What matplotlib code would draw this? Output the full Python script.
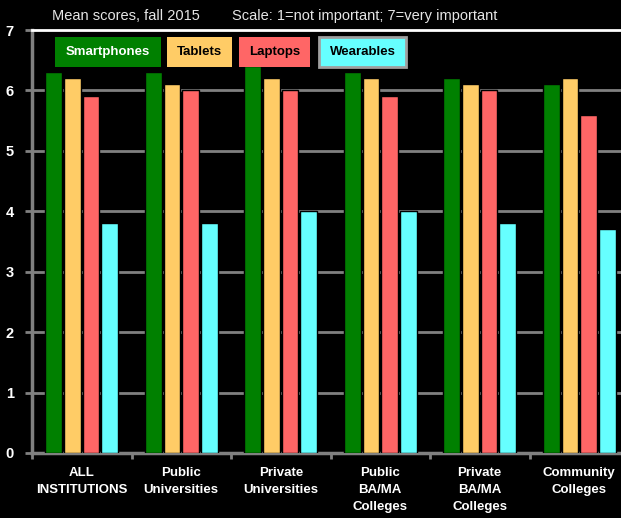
import numpy as np
import matplotlib.pyplot as plt
from matplotlib.patches import Rectangle

categories = ["ALL\nINSTITUTIONS", "Public\nUniversities", "Private\nUniversities",
              "Public\nBA/MA\nColleges", "Private\nBA/MA\nColleges", "Community\nColleges"]
series_names = ["Smartphones", "Tablets", "Laptops", "Wearables"]
smartphones = [6.3, 6.3, 6.4, 6.3, 6.2, 6.1]
tablets = [6.2, 6.1, 6.2, 6.2, 6.1, 6.2]
laptops = [5.9, 6.0, 6.0, 5.9, 6.0, 5.6]
wearables = [3.8, 3.8, 4.0, 4.0, 3.8, 3.7]
yticks = [0, 1, 2, 3, 4, 5, 6, 7]

colors = ["#008000", "#FFCC66", "#FF6666", "#66FFFF"]
text_colors = ["white", "black", "black", "black"]

plt.rcParams["font.family"] = ["Liberation Sans", "DejaVu Sans"]

fig = plt.figure(figsize=(6.21, 5.18), dpi=100, facecolor="black")
ax = fig.add_axes([32 / 621, 1 - 453 / 518, 597 / 621, 423 / 518], facecolor="black")

x = np.arange(len(categories))
offsets = [-0.28, -0.093, 0.093, 0.28]
for vals, off, c in zip([smartphones, tablets, laptops, wearables], offsets, colors):
    ax.bar(x + off, vals, width=0.17, color=c, edgecolor="black", linewidth=1.0, zorder=3)

ax.set_xlim(-0.5, len(categories) - 0.5)
ax.set_ylim(0, 7)
ax.set_yticks(yticks)
ax.set_yticklabels([str(t) for t in yticks], color="white", fontsize=10.5, fontweight="bold")
ax.set_xticks(x)
ax.set_xticklabels(categories, color="white", fontsize=9.5, fontweight="bold", linespacing=1.55)
ax.tick_params(axis="x", length=0, pad=10)
ax.set_xticks(np.arange(len(categories) + 1) - 0.5, minor=True)
ax.tick_params(axis="x", which="minor", length=4, width=2, color="#808080")
ax.tick_params(axis="y", length=5, width=2, color="#808080", pad=8)

for t in yticks[1:-1]:
    ax.axhline(t, color="#808080", linewidth=2, zorder=1)

ax.spines["right"].set_visible(False)
ax.spines["top"].set_color("white")
ax.spines["top"].set_linewidth(2)
ax.spines["left"].set_color("#808080")
ax.spines["left"].set_linewidth(2.5)
ax.spines["bottom"].set_color("#808080")
ax.spines["bottom"].set_linewidth(2.5)

fig.text(52 / 621, 1 - 16 / 518, "Mean scores, fall 2015", color="#E6E6E6", fontsize=10.5,
         va="center", ha="left")
fig.text(232 / 621, 1 - 16 / 518, "Scale: 1=not important; 7=very important", color="#E6E6E6",
         fontsize=10.5, va="center", ha="left")

# legend boxes
boxes = [(55, 161), (167, 232), (239, 310), (319, 406)]
for (x0, x1), name, c, tc in zip(boxes, series_names, colors, text_colors):
    ec = "#A0A0A0" if name == "Wearables" else c
    lw = 2 if name == "Wearables" else 0
    fig.patches.append(Rectangle((x0 / 621, 1 - 67 / 518), (x1 - x0) / 621, 30 / 518,
                                 transform=fig.transFigure, facecolor=c, edgecolor=ec,
                                 linewidth=lw, zorder=5))
    fig.text((x0 + x1) / 2 / 621, 1 - 52 / 518, name, color=tc, fontsize=9.5,
             fontweight="bold", ha="center", va="center", zorder=6)

fig.savefig("out.png", dpi=100, facecolor="black")
